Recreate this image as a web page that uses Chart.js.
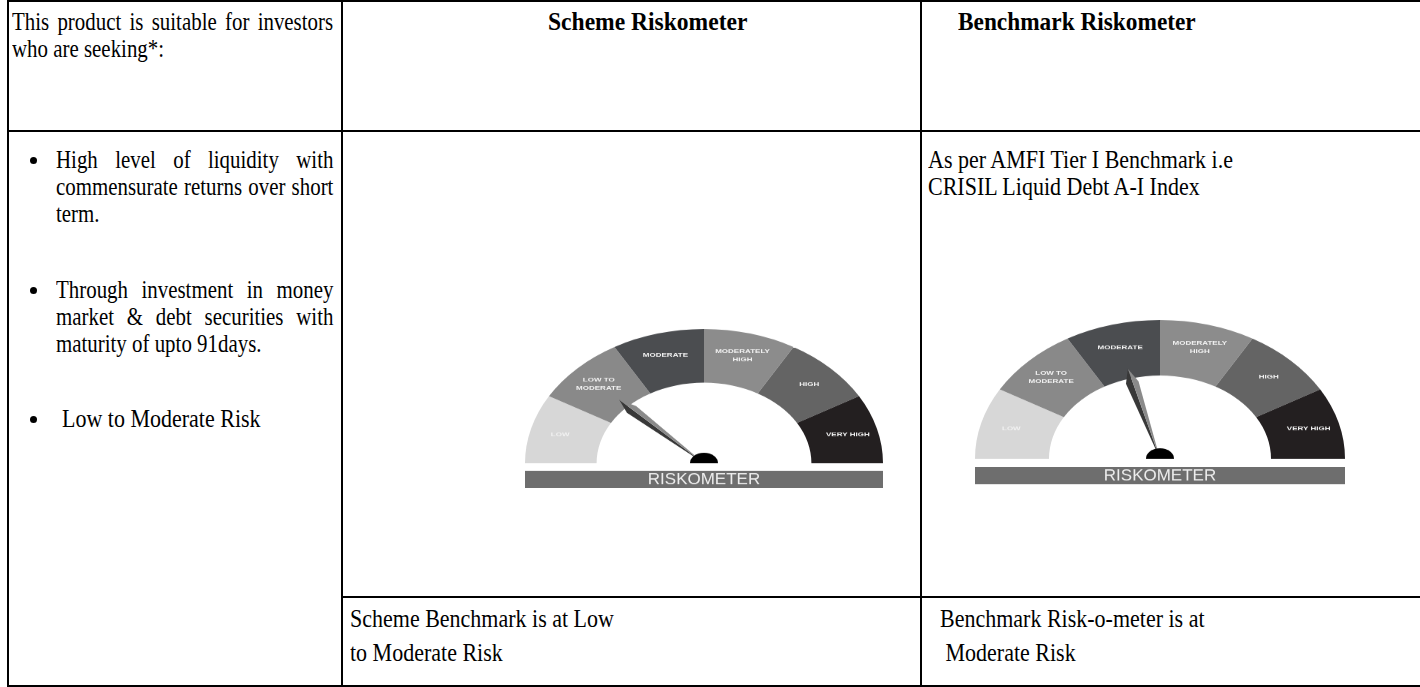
<!DOCTYPE html>
<html>
<head>
<meta charset="utf-8">
<script src="https://cdn.jsdelivr.net/npm/chart.js@4.4.1/dist/chart.umd.min.js"></script>
<style>
  body { margin: 0; width: 1420px; height: 687px; background: #fff; overflow: hidden; position: relative;
         font-family: "Liberation Serif", "Times New Roman", serif; font-size: 22px; color: #000; }
  .ln { position: absolute; background: #000; }
  /* the reference text is a little taller than plain Times, so stretch it vertically */
  .txt { position: absolute; line-height: 23.5px; white-space: nowrap; transform: scaleY(1.15); transform-origin: 0 0; }
  .just { position: absolute; line-height: 23.5px; text-align: justify; transform: scale(0.95, 1.15); transform-origin: 0 0; }
  .dot { position: absolute; width: 7px; height: 7px; border-radius: 50%; background: #000; }
  .gauge { position: absolute; transform: scaleY(0.75); transform-origin: 0 0; }
  .gauge canvas { display: block; }
</style>
</head>
<body>
<!-- table rules -->
<div class="ln" style="left:7px;top:0;width:1413px;height:2px"></div>
<div class="ln" style="left:7px;top:0;width:2px;height:687px"></div>
<div class="ln" style="left:341px;top:0;width:2px;height:687px"></div>
<div class="ln" style="left:920px;top:0;width:2px;height:687px"></div>
<div class="ln" style="left:7px;top:130px;width:1413px;height:2px"></div>
<div class="ln" style="left:341px;top:596px;width:1079px;height:2px"></div>
<div class="ln" style="left:7px;top:685px;width:1413px;height:2px"></div>

<!-- header row -->
<div class="just" style="left:12px;top:8px;width:338px">This product is suitable for investors who are seeking*:</div>
<div class="txt" style="left:548px;top:8px;font-weight:bold;transform:scale(1.07,1.15)">Scheme Riskometer</div>
<div class="txt" style="left:958px;top:8px;font-weight:bold;transform:scale(1.06,1.15)">Benchmark Riskometer</div>

<!-- bullets -->
<div class="dot" style="left:30px;top:157px"></div>
<div class="just" style="left:56px;top:146px;width:292px">High level of liquidity with commensurate returns over short term.</div>
<div class="dot" style="left:30px;top:287px"></div>
<div class="just" style="left:56px;top:276px;width:292px">Through investment in money market &amp; debt securities with maturity of upto 91days.</div>
<div class="dot" style="left:30px;top:416px"></div>
<div class="txt" style="left:62px;top:405px">Low to Moderate Risk</div>

<div class="txt" style="left:928px;top:146px">As per AMFI Tier I Benchmark i.e<br>CRISIL Liquid Debt A-I Index</div>

<!-- bottom row -->
<div class="txt" style="left:350px;top:603px;line-height:28.7px">Scheme Benchmark is at Low<br>to Moderate Risk</div>
<div class="txt" style="left:940px;top:603px;line-height:28.7px">Benchmark Risk-o-meter is at<br>&nbsp;Moderate Risk</div>

<div class="gauge" style="left:525px;top:329px"><canvas id="schemeGauge" width="358" height="213"></canvas></div>
<div class="gauge" style="left:975px;top:320px"><canvas id="benchGauge" width="370" height="220"></canvas></div>

<script>
const riskLevels = ['LOW', 'LOW TO MODERATE', 'MODERATE', 'MODERATELY HIGH', 'HIGH', 'VERY HIGH'];
const segmentLabels = [['LOW'], ['LOW TO', 'MODERATE'], ['MODERATE'], ['MODERATELY', 'HIGH'], ['HIGH'], ['VERY HIGH']];
const segmentSizes = [1, 1, 1, 1, 1, 1];
const segmentColors = ['#d7d7d7', '#898989', '#4b4d50', '#8c8c8c', '#646464', '#231f20'];
const schemeRisk = 'LOW TO MODERATE';
const benchmarkRisk = 'MODERATE';

// draws labels, needle, hub and the RISKOMETER bar on top of the doughnut
const meterPlugin = {
    id: 'meter',
    afterDatasetsDraw(chart, args, opts) {
        const ctx = chart.ctx;
        const meta = chart.getDatasetMeta(0);
        const first = meta.data[0];
        const cx = first.x, cy = first.y;
        const outer = first.outerRadius, inner = first.innerRadius;

        // segment labels
        ctx.save();
        ctx.fillStyle = '#f2f2f2';
        ctx.font = 'bold 8px "Liberation Sans", Arial, sans-serif';
        ctx.textAlign = 'center';
        ctx.textBaseline = 'middle';
        meta.data.forEach((arc, i) => {
            const mid = (arc.startAngle + arc.endAngle) / 2;
            const r = inner + (outer - inner) * 0.58;
            const lx = cx + r * Math.cos(mid);
            const ly = cy + r * Math.sin(mid);
            const lines = segmentLabels[i];
            lines.forEach((t, k) => {
                ctx.fillText(t, lx, ly + (k - (lines.length - 1) / 2) * 11);
            });
        });
        ctx.restore();

        // needle
        const arc = meta.data[riskLevels.indexOf(opts.level)];
        const a = (arc.startAngle + arc.endAngle) / 2;
        const L = outer * 0.67;
        const dx = Math.cos(a), dy = Math.sin(a);
        const px = -dy, py = dx;
        const tip = [cx + L * dx, cy + L * dy];
        const wx = cx + L * 0.85 * dx, wy = cy + L * 0.85 * dy;
        ctx.save();
        ctx.fillStyle = '#383838';
        ctx.beginPath();
        ctx.moveTo(tip[0], tip[1]);
        ctx.lineTo(wx - 7 * px, wy - 7 * py);
        ctx.lineTo(cx, cy);
        ctx.closePath();
        ctx.fill();
        ctx.fillStyle = '#8a8a8a';
        ctx.beginPath();
        ctx.moveTo(tip[0], tip[1]);
        ctx.lineTo(wx + 6 * px, wy + 6 * py);
        ctx.lineTo(cx, cy);
        ctx.closePath();
        ctx.fill();

        // hub
        ctx.fillStyle = '#000';
        ctx.beginPath();
        ctx.arc(cx, cy, 14, Math.PI, 0);
        ctx.closePath();
        ctx.fill();

        // bar
        const area = chart.chartArea;
        const barTop = cy + opts.gap;
        ctx.fillStyle = '#6e6e6e';
        ctx.fillRect(area.left, barTop, area.right - area.left, opts.bar);
        ctx.fillStyle = '#ededed';
        ctx.font = '17px "Liberation Sans", Arial, sans-serif';
        ctx.textAlign = 'center';
        ctx.textBaseline = 'middle';
        ctx.translate(cx, barTop + opts.bar / 2 + 1);
        ctx.scale(1, 1.25);
        ctx.fillText('RISKOMETER', 0, 0);
        ctx.restore();
    }
};

function makeGauge(id, level, gap, bar) {
    new Chart(document.getElementById(id), {
        type: 'doughnut',
        data: {
            labels: riskLevels,
            datasets: [{
                data: segmentSizes,
                backgroundColor: segmentColors,
                borderWidth: 0
            }]
        },
        options: {
            responsive: false,
            animation: false,
            events: [],
            rotation: -90,
            circumference: 180,
            cutout: '60%',
            layout: { padding: { bottom: gap + bar + 1 } },
            plugins: {
                legend: { display: false },
                tooltip: { enabled: false },
                meter: { level: level, gap: gap, bar: bar }
            }
        },
        plugins: [meterPlugin]
    });
}

makeGauge('schemeGauge', schemeRisk, 10, 23);
makeGauge('benchGauge', benchmarkRisk, 11, 23);
</script>
</body>
</html>
